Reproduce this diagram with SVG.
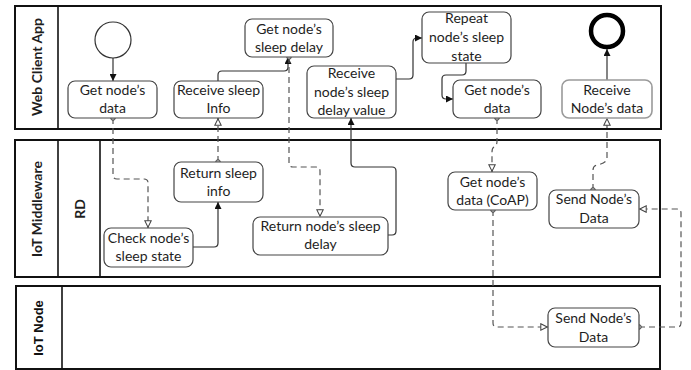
<svg xmlns="http://www.w3.org/2000/svg" width="691" height="370" viewBox="0 0 691 370">
  <style>
    .pool { fill: #ffffff; stroke: #111; stroke-width: 2; }
    .div { stroke: #111; stroke-width: 1.6; fill: none; }
    .task { fill: #ffffff; stroke: #444; stroke-width: 1.2; }
    .task.soft { stroke: #9a9a9a; stroke-width: 1.6; }
    .t { font-family: Lato, "Open Sans", sans-serif; font-size: 14px; fill: #1e1e1e; text-anchor: middle; }
    .lane { font-family: Lato, "Open Sans", sans-serif; font-size: 14px; font-weight: bold; fill: #1e1e1e; text-anchor: middle; }
    .lane2 { font-family: "Liberation Sans", Arial, sans-serif; font-size: 13px; font-weight: bold; fill: #111; text-anchor: middle; }
    .seq { fill: none; stroke: #333; stroke-width: 1.2; marker-end: url(#solidArrow); }
    .msg { fill: none; stroke: #555; stroke-width: 1.2; stroke-dasharray: 6 4; marker-start: url(#dot); marker-end: url(#openArrow); }
  </style>
  <defs>
    <marker id="solidArrow" viewBox="0 0 10 10" refX="10" refY="5" markerWidth="7" markerHeight="7" markerUnits="userSpaceOnUse" orient="auto">
      <path d="M0,0 L10,5 L0,10 Z" fill="#111"/>
    </marker>
    <marker id="openArrow" viewBox="0 0 10 10" refX="10" refY="5" markerWidth="8" markerHeight="8" markerUnits="userSpaceOnUse" orient="auto">
      <path d="M1,1 L9,5 L1,9 Z" fill="#fff" stroke="#444" stroke-width="1.3" stroke-dasharray="none"/>
    </marker>
    <marker id="dot" viewBox="0 0 10 10" refX="5" refY="5" markerWidth="6" markerHeight="6" markerUnits="userSpaceOnUse" orient="auto">
      <circle cx="5" cy="5" r="3.8" fill="#bbb" stroke="#333" stroke-width="1.4" stroke-dasharray="none"/>
    </marker>
  </defs>

  <!-- Pools and lanes -->
  <g id="pool-web">
    <rect class="pool" x="15" y="6" width="646" height="123"/>
    <line class="div" x1="58" y1="6" x2="58" y2="129"/>
    <text class="lane" transform="translate(42,67) rotate(-90)">Web Client App</text>
  </g>
  <g id="pool-middleware">
    <rect class="pool" x="15" y="140" width="645" height="137"/>
    <line class="div" x1="58" y1="140" x2="58" y2="277"/>
    <line class="div" x1="100" y1="140" x2="100" y2="277"/>
    <text class="lane" transform="translate(42,209) rotate(-90)">IoT Middleware</text>
    <text class="lane" transform="translate(85,209) rotate(-90)">RD</text>
  </g>
  <g id="pool-node">
    <rect class="pool" x="16" y="286" width="644" height="83"/>
    <line class="div" x1="62" y1="286" x2="62" y2="369"/>
    <text class="lane2" transform="translate(43,328) rotate(-90)">IoT Node</text>
  </g>

  <!-- Connectors -->
  <g id="connectors">
    <path class="seq" d="M113,58 V81"/>
    <path class="msg" d="M113,118 V175 Q113,179 117,179 H144 Q148,179 148,183 V228"/>
    <path class="seq" d="M193,247 H214 Q218,247 218,243 V202"/>
    <path class="msg" d="M218,162 V118"/>
    <path class="seq" d="M218,81 V75 Q218,71 222,71 H284 Q288,71 288,67 V57"/>
    <path class="msg" d="M289,57 V163 Q289,167 293,167 H316 Q320,167 320,171 V217"/>
    <path class="seq" d="M388,235 H392 Q396,235 396,231 V171 Q396,167 392,167 H355 Q351,167 351,163 V118"/>
    <path class="seq" d="M396,79 H409 Q413,79 413,75 V42 Q413,38 417,38 H422"/>
    <path class="seq" d="M466,63 V71 Q466,75 462,75 H446 Q442,75 442,79 V95 Q442,99 446,99 H453"/>
    <path class="msg" d="M497,118 V141 Q497,146 494,147 Q492,148 492,152 V172"/>
    <path class="msg" d="M493,210 V323 Q493,327 497,327 H548"/>
    <path class="msg" d="M639,327 H677 Q681,327 681,323 V213 Q681,209 677,209 H639"/>
    <path class="msg" d="M593,190 V170 Q593,166 597,165 Q607,163 607,158 V118"/>
    <path class="seq" d="M607,80 V49"/>
  </g>

  <!-- Web Client App -->
  <g id="start">
    <circle cx="113" cy="40" r="18" fill="#fff" stroke="#333" stroke-width="1.2"/>
  </g>
  <g id="end">
    <circle cx="607" cy="31" r="16" fill="#fff" stroke="#000" stroke-width="4.5"/>
  </g>
  <g id="get-data-web">
    <rect class="task" x="68" y="81" width="89" height="37" rx="7"/>
    <text class="t" x="112.5" y="95">Get node’s</text>
    <text class="t" x="112.5" y="113">data</text>
  </g>
  <g id="receive-sleep-info">
    <rect class="task" x="174" y="81" width="89" height="37" rx="7"/>
    <text class="t" x="218.5" y="95">Receive sleep</text>
    <text class="t" x="218.5" y="113">Info</text>
  </g>
  <g id="get-sleep-delay">
    <rect class="task" x="245" y="19" width="88" height="38" rx="7"/>
    <text class="t" x="289" y="34">Get node’s</text>
    <text class="t" x="289" y="52">sleep delay</text>
  </g>
  <g id="receive-sleep-delay">
    <rect class="task" x="307" y="66" width="89" height="52" rx="7"/>
    <text class="t" x="351.5" y="78">Receive</text>
    <text class="t" x="351.5" y="96.5">node’s sleep</text>
    <text class="t" x="351.5" y="115">delay value</text>
  </g>
  <g id="repeat-sleep-state">
    <rect class="task" x="422" y="12" width="89" height="51" rx="7"/>
    <text class="t" x="466.5" y="23">Repeat</text>
    <text class="t" x="466.5" y="42">node’s sleep</text>
    <text class="t" x="466.5" y="61">state</text>
  </g>
  <g id="get-data-web-2">
    <rect class="task" x="453" y="80" width="88" height="38" rx="7"/>
    <text class="t" x="497" y="95">Get node’s</text>
    <text class="t" x="497" y="113">data</text>
  </g>
  <g id="receive-node-data">
    <rect class="task soft" x="562" y="80" width="90" height="38" rx="7"/>
    <text class="t" x="607" y="95">Receive</text>
    <text class="t" x="607" y="113">Node’s data</text>
  </g>

  <!-- IoT Middleware / RD -->
  <g id="check-sleep-state">
    <rect class="task" x="104" y="228" width="89" height="39" rx="7"/>
    <text class="t" x="148.5" y="243">Check node’s</text>
    <text class="t" x="148.5" y="261">sleep state</text>
  </g>
  <g id="return-sleep-info">
    <rect class="task" x="174" y="162" width="89" height="40" rx="7"/>
    <text class="t" x="218.5" y="178">Return sleep</text>
    <text class="t" x="218.5" y="196">info</text>
  </g>
  <g id="return-sleep-delay">
    <rect class="task" x="253" y="217" width="135" height="38" rx="7"/>
    <text class="t" x="320.5" y="231">Return node’s sleep</text>
    <text class="t" x="320.5" y="249">delay</text>
  </g>
  <g id="get-data-coap">
    <rect class="task" x="448" y="172" width="89" height="38" rx="7"/>
    <text class="t" x="492.5" y="187">Get node’s</text>
    <text class="t" x="492.5" y="205">data (CoAP)</text>
  </g>
  <g id="send-data-rd">
    <rect class="task" x="549" y="190" width="90" height="38" rx="7"/>
    <text class="t" x="594" y="204">Send Node’s</text>
    <text class="t" x="594" y="223">Data</text>
  </g>

  <!-- IoT Node -->
  <g id="send-data-node">
    <rect class="task" x="548" y="308" width="91" height="39" rx="7"/>
    <text class="t" x="593.5" y="323">Send Node’s</text>
    <text class="t" x="593.5" y="342">Data</text>
  </g>
</svg>
